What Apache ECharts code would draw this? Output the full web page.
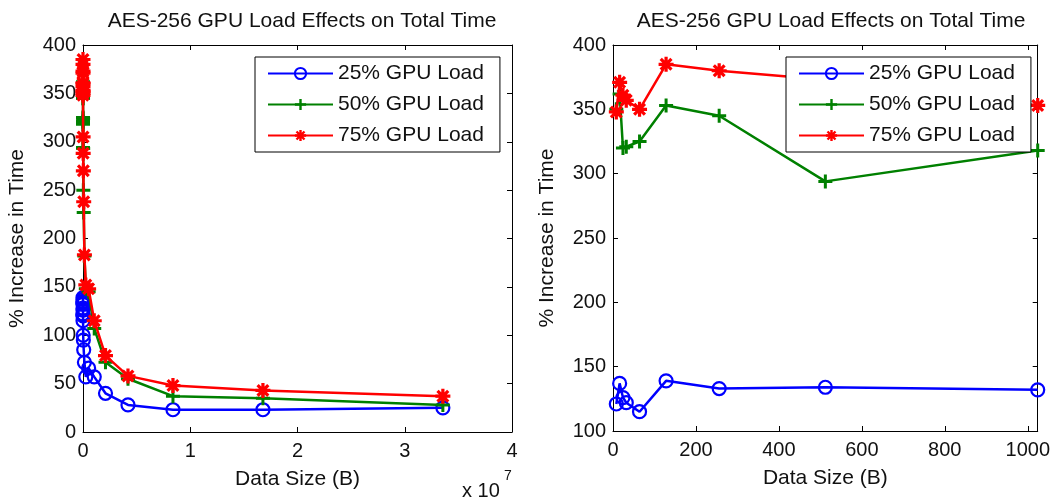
<!DOCTYPE html>
<html>
<head>
<meta charset="utf-8">
<script src="https://cdn.jsdelivr.net/npm/echarts@6/dist/echarts.min.js"></script>
<style>
html,body{margin:0;padding:0;background:#fff;}
#chart{width:1053px;height:500px;}
</style>
</head>
<body>
<div id="chart"></div>
<script>
// ---- data ----
const sizes = [8,16,24,32,64,128,256,512,1024,2048,4096,8192,16384,32768,65536,131072,262144,524288,1048576,2097152,4194304,8388608,16777216,33554432];
const load25 = [121,137,126,122,115,139,133,134,132,135,128,120,100,95,85,72,57,66,57,40,28,23,23,25];
const load50 = [350,362,320,321,325,353,345,294,318,350,345,324,293,250,227,182,148,145,107,72,55,37,35,28];
const load75 = [348,371,361,357,350,385,380,373,353,360,352,305,288,270,238,183,152,148,115,79,58,48,43,37];
const seriesNames = ['25% GPU Load','50% GPU Load','75% GPU Load'];
const chartTitle = 'AES-256 GPU Load Effects on Total Time';
const xLabel = 'Data Size (B)';
const yLabel = '% Increase in Time';
const smallMax = 1024;

// ---- styling ----
const FONT = '"Liberation Sans", Arial, Helvetica, sans-serif';
const colors = ['#0000ff','#008000','#ff0000'];
const plusPath = 'path://M-1.5,-7 L1.5,-7 L1.5,-1.5 L7,-1.5 L7,1.5 L1.5,1.5 L1.5,7 L-1.5,7 L-1.5,1.5 L-7,1.5 L-7,-1.5 L-1.5,-1.5 Z';
const starPath = 'path://M-1.5,-7 L1.5,-7 L1.5,-1.5 L7,-1.5 L7,1.5 L1.5,1.5 L1.5,7 L-1.5,7 L-1.5,1.5 L-7,1.5 L-7,-1.5 L-1.5,-1.5 Z ' +
  'M-3.94,-6.06 L6.06,3.94 L3.94,6.06 L-6.06,-3.94 Z ' +
  'M-6.06,3.94 L3.94,-6.06 L6.06,-3.94 L-3.94,6.06 Z';

function pairs(ys, filt) {
  const out = [];
  sizes.forEach((x, i) => { if (!filt || x <= smallMax) out.push([x, ys[i]]); });
  return out;
}

function mkSeries(idx, axisIdx, filt) {
  const ys = [load25, load50, load75][idx];
  const base = {
    type: 'line',
    name: seriesNames[idx],
    xAxisIndex: axisIdx, yAxisIndex: axisIdx,
    data: pairs(ys, filt),
    color: colors[idx],
    lineStyle: {color: colors[idx], width: 2.5},
    emphasis: {disabled: true},
    z: 2 + idx
  };
  if (idx === 0) {
    base.symbol = 'circle';
    base.symbolSize = 13;
    base.itemStyle = {color: 'rgba(0,0,0,0)', borderColor: colors[0], borderWidth: 2.2};
  } else if (idx === 1) {
    base.symbol = plusPath;
    base.symbolSize = 14;
    base.itemStyle = {color: colors[1]};
  } else {
    base.symbol = starPath;
    base.symbolSize = 15;
    base.itemStyle = {color: colors[2]};
  }
  return base;
}

const axisLineStyle = {show: true, onZero: false, lineStyle: {color: '#000', width: 1}};
const tickStyle = {show: true, inside: true, length: 5, lineStyle: {color: '#000'}};
const labelStyle = {fontSize: 20, color: '#111', fontFamily: FONT};

function xAxes(grid, max, interval, fmt, showMaxLabel) {
  return [
    {type: 'value', gridIndex: grid, position: 'bottom', min: 0, max: max, interval: interval,
     axisLine: axisLineStyle, axisTick: tickStyle, splitLine: {show: false},
     axisLabel: Object.assign({margin: 9, formatter: fmt, showMaxLabel: showMaxLabel}, labelStyle),
     name: xLabel, nameLocation: 'middle', nameGap: 37,
     nameTextStyle: {fontSize: 21, color: '#111', fontFamily: FONT}},
    {type: 'value', gridIndex: grid, position: 'top', min: 0, max: max, interval: interval,
     axisLine: axisLineStyle, axisTick: tickStyle, splitLine: {show: false}, axisLabel: {show: false}}
  ];
}
function yAxes(grid, min) {
  return [
    {type: 'value', gridIndex: grid, position: 'left', min: min, max: 400, interval: 50,
     axisLine: axisLineStyle, axisTick: tickStyle, splitLine: {show: false},
     axisLabel: Object.assign({margin: 7}, labelStyle),
     name: yLabel, nameLocation: 'middle', nameGap: 55,
     nameTextStyle: {fontSize: 21, color: '#111', fontFamily: FONT}},
    {type: 'value', gridIndex: grid, position: 'right', min: min, max: 400, interval: 50,
     axisLine: axisLineStyle, axisTick: tickStyle, splitLine: {show: false}, axisLabel: {show: false}}
  ];
}

function mkLegend(left) {
  return {
    left: left, top: 57, orient: 'vertical',
    itemWidth: 65, itemHeight: 14, itemGap: 10,
    padding: [6, 16, 6, 12],
    borderColor: '#000', borderWidth: 1, borderRadius: 0,
    backgroundColor: '#fff',
    selectedMode: false,
    textStyle: {fontSize: 21, color: '#111', fontFamily: FONT},
    data: seriesNames.slice(),
    z: 10
  };
}

const chart = echarts.init(document.getElementById('chart'), null, {renderer: 'canvas'});
const xa = xAxes(0, 4e7, 1e7, v => String(Math.round(v / 1e7)), true)
  .concat(xAxes(1, 1024, 200, v => String(v), false));
const ya = yAxes(0, 0).concat(yAxes(1, 100));

const series = [];
for (let i = 0; i < 3; i++) series.push(mkSeries(i, 0, false));
for (let i = 0; i < 3; i++) series.push(mkSeries(i, 2, true));

chart.setOption({
  animation: false,
  backgroundColor: '#fff',
  textStyle: {fontFamily: FONT},
  title: [
    {text: chartTitle, left: 297, top: 6, textAlign: 'center',
     textStyle: {fontSize: 21, fontWeight: 'normal', color: '#111', fontFamily: FONT}},
    {text: chartTitle, left: 826, top: 6, textAlign: 'center',
     textStyle: {fontSize: 21, fontWeight: 'normal', color: '#111', fontFamily: FONT}}
  ],
  grid: [
    {left: 83, top: 45, width: 429, height: 387},
    {left: 613, top: 45, width: 427, height: 386}
  ],
  xAxis: xa,
  yAxis: ya,
  legend: [mkLegend(255), mkLegend(786)],
  graphic: [
    {type: 'text', left: 462, top: 481, style: {text: 'x 10', fontSize: 20, fill: '#111', fontFamily: FONT}},
    {type: 'text', left: 504, top: 469, style: {text: '7', fontSize: 14, fill: '#111', fontFamily: FONT}}
  ],
  series: series
});
</script>
</body>
</html>
